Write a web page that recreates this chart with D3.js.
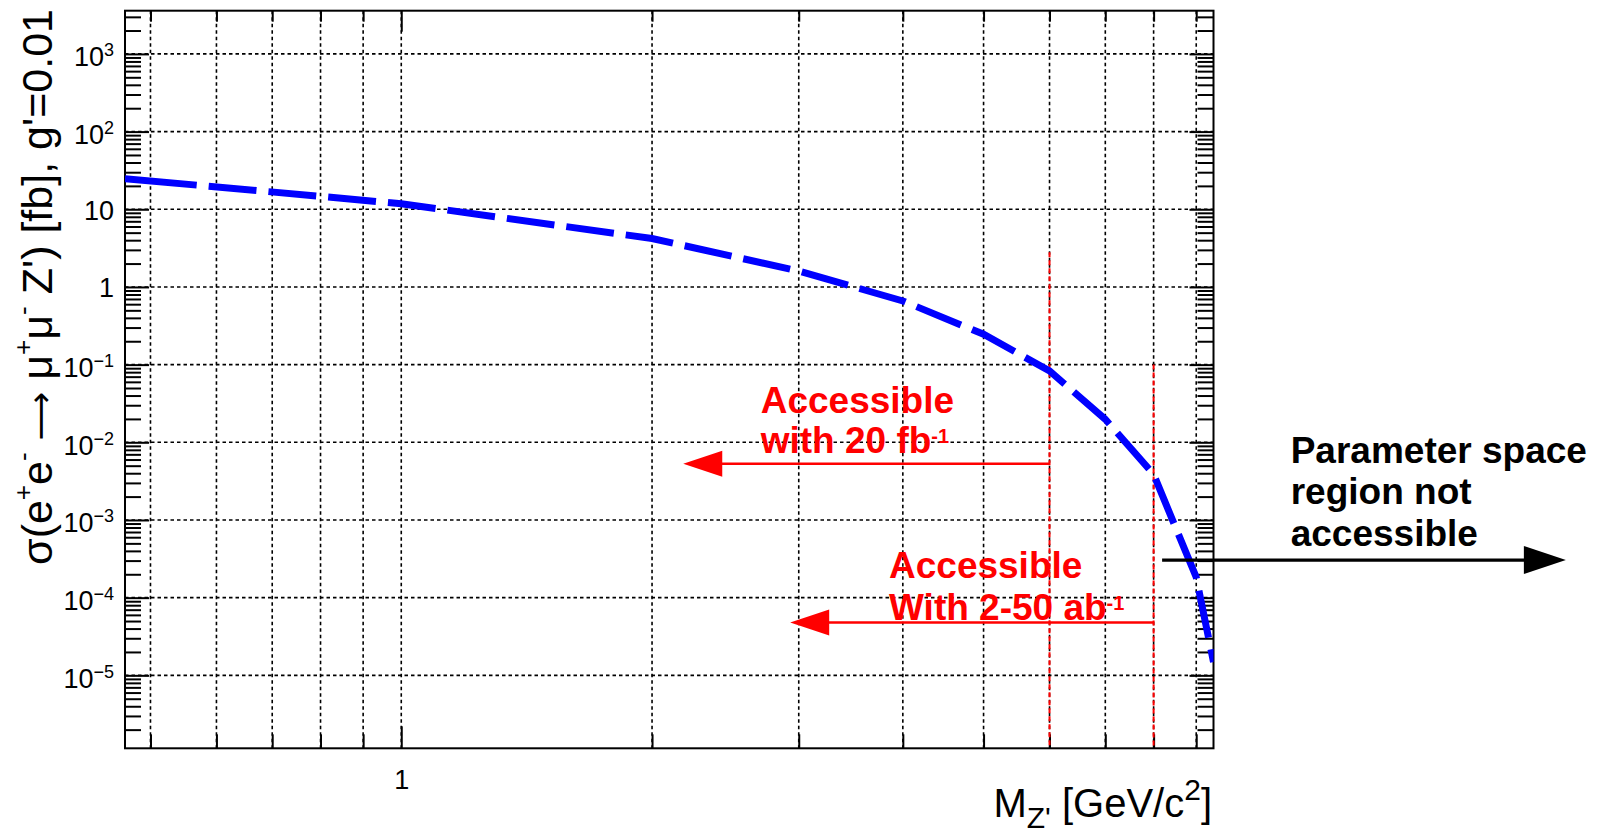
<!DOCTYPE html>
<html>
<head>
<meta charset="utf-8">
<script src="https://cdn.jsdelivr.net/npm/d3@7"></script>
<style>
body{margin:0;background:#fff;}
text{font-family:"Liberation Sans",Arial,sans-serif;}
</style>
</head>
<body>
<script>
// cross section vs Z' mass
var massPoints = [0.466, 1, 2, 3, 4, 5, 6, 7, 8, 9, 9.44];
var xsecValues = [24.8, 11.8, 4.2, 1.6, 0.66, 0.246, 0.083, 0.0198, 0.00387, 1.83e-4, 1.48e-5];

var xGridValues = [0.5, 0.6, 0.7, 0.8, 0.9, 1, 2, 3, 4, 5, 6, 7, 8, 9];
var xTickValues = [1];
var xTickLabels = ["1"];
var yTickValues = [1e3, 1e2, 10, 1, 1e-1, 1e-2, 1e-3, 1e-4, 1e-5];
var yTickBase = ["10", "10", "10", "1", "10", "10", "10", "10", "10"];
var yTickExp = ["3", "2", "", "", "\u22121", "\u22122", "\u22123", "\u22124", "\u22125"];

// red reach lines (20 fb-1 and 2-50 ab-1)
var reachMass = [6, 8];
var reachTop = [2.8, 0.1];
var reachArrowY = [5.3e-3, 4.8e-5];
var reachArrowTip = [2.18, 2.93];
var reachLine1 = ["Accessible", "Accessible"];
var reachLine2 = ["with 20 fb", "With 2-50 ab"];

// black arrow, region not accessible
var notAccX = [8.19, 25.0];
var notAccY = 3.05e-4;
var notAccText = ["Parameter space", "region not", "accessible"];

var W = 1608, H = 834;
var L = 125, R = 1213.5, T = 10.7, B = 748.3;

var x = d3.scaleLog().domain([0.466, 9.44]).range([L, R]);
var y = d3.scaleLog().domain([1.15e-6, 3.6e3]).range([B, T]);

var svg = d3.select("body").append("svg").attr("width", W).attr("height", H);

svg.append("defs").append("clipPath").attr("id", "plotclip")
  .append("rect").attr("x", L).attr("y", T).attr("width", R - L).attr("height", B - T);

// grid
var grid = svg.append("g").attr("stroke", "#000").attr("stroke-width", 1.6).attr("stroke-dasharray", "3.5,3");
grid.selectAll("line.gx").data(xGridValues).enter().append("line").attr("class", "gx")
  .attr("x1", function (d) { return x(d); }).attr("x2", function (d) { return x(d); })
  .attr("y1", T).attr("y2", B);
grid.selectAll("line.gy").data(yTickValues).enter().append("line").attr("class", "gy")
  .attr("x1", L).attr("x2", R)
  .attr("y1", function (d) { return y(d); }).attr("y2", function (d) { return y(d); });

// minor ticks
var yMinor = [];
for (var e = -6; e <= 3; e++) {
  for (var m = 2; m <= 9; m++) {
    var v = m * Math.pow(10, e);
    if (v >= y.domain()[0] && v <= y.domain()[1]) yMinor.push(v);
  }
}
var xMinor = xGridValues.filter(function (d) { return d != 1; });

function styleAxis(g) {
  g.select(".domain").remove();
  g.selectAll(".tick line").attr("stroke", "#000").attr("stroke-width", 2);
}

svg.append("g").attr("transform", "translate(" + L + ",0)")
  .call(d3.axisLeft(y).tickValues(yMinor).tickSize(-16).tickFormat("")).call(styleAxis);
svg.append("g").attr("transform", "translate(" + R + ",0)")
  .call(d3.axisRight(y).tickValues(yMinor).tickSize(-16).tickFormat("")).call(styleAxis);
svg.append("g").attr("transform", "translate(" + R + ",0)")
  .call(d3.axisRight(y).tickValues(yTickValues).tickSize(-24).tickFormat("")).call(styleAxis);
svg.append("g").attr("transform", "translate(0," + B + ")")
  .call(d3.axisBottom(x).tickValues(xMinor).tickSize(-14).tickFormat("")).call(styleAxis);
svg.append("g").attr("transform", "translate(0," + T + ")")
  .call(d3.axisTop(x).tickValues(xMinor).tickSize(-11).tickFormat("")).call(styleAxis);
svg.append("g").attr("transform", "translate(0," + T + ")")
  .call(d3.axisTop(x).tickValues(xTickValues).tickSize(-21).tickFormat("")).call(styleAxis);

// major y axis with labels
var yAx = svg.append("g").attr("transform", "translate(" + L + ",0)")
  .call(d3.axisLeft(y).tickValues(yTickValues).tickSize(-24).tickPadding(11).tickFormat(""))
  .call(styleAxis);
yAx.selectAll(".tick text").each(function (d, i) {
  var t = d3.select(this).attr("fill", "#000").attr("font-size", 27)
    .attr("font-family", "Liberation Sans, Arial, sans-serif")
    .attr("dy", yTickExp[i] ? 12 : 10);
  t.append("tspan").text(yTickBase[i]);
  if (yTickExp[i]) t.append("tspan").attr("dy", -10).attr("font-size", 18).text(yTickExp[i]);
});

// major x axis with labels
var xAx = svg.append("g").attr("transform", "translate(0," + B + ")")
  .call(d3.axisBottom(x).tickValues(xTickValues).tickSize(-22).tickFormat(function (d, i) { return xTickLabels[i]; }))
  .call(styleAxis);
xAx.selectAll(".tick text").attr("fill", "#000").attr("font-size", 27)
  .attr("font-family", "Liberation Sans, Arial, sans-serif").attr("y", 41).attr("dy", 0);

// frame
svg.append("rect").attr("x", L).attr("y", T).attr("width", R - L).attr("height", B - T)
  .attr("fill", "none").attr("stroke", "#000").attr("stroke-width", 2);

// red reach markers
var red = "#ff0000";
reachMass.forEach(function (mv, i) {
  svg.append("line").attr("x1", x(mv)).attr("x2", x(mv)).attr("y1", y(reachTop[i])).attr("y2", B)
    .attr("stroke", red).attr("stroke-width", 2).attr("stroke-dasharray", "5,3");
  var ay = y(reachArrowY[i]), tip = x(reachArrowTip[i]);
  svg.append("line").attr("x1", x(mv)).attr("x2", tip + 36).attr("y1", ay).attr("y2", ay)
    .attr("stroke", red).attr("stroke-width", 2.5);
  svg.append("path").attr("d", "M" + tip + "," + ay + "L" + (tip + 39) + "," + (ay - 13) + "L" + (tip + 39) + "," + (ay + 13) + "Z")
    .attr("fill", red);
});

// curve
var pts = massPoints.map(function (d, i) { return [d, xsecValues[i]]; });
var line = d3.line().x(function (d) { return x(d[0]); }).y(function (d) { return y(d[1]); });
var curve = svg.append("path").datum(pts).attr("d", line).attr("clip-path", "url(#plotclip)")
  .attr("fill", "none").attr("stroke", "#0000ff").attr("stroke-width", 7);
var len = curve.node().getTotalLength();
var dashes = [72, 12], tot = 84;
while (tot < len + 60) { dashes.push(48, 12); tot += 60; }
curve.attr("stroke-dasharray", dashes.join(","));

// red labels
var reachPos = [[760.7, 413, 453.3], [889, 578.3, 620]];
reachLine1.forEach(function (s, i) {
  var p = reachPos[i];
  svg.append("text").attr("x", p[0]).attr("y", p[1]).attr("fill", red).attr("font-size", 37)
    .attr("font-weight", "bold").text(s);
  var t2 = svg.append("text").attr("x", p[0]).attr("y", p[2]).attr("fill", red).attr("font-size", 37)
    .attr("font-weight", "bold");
  t2.append("tspan").text(reachLine2[i]);
  t2.append("tspan").attr("dy", -10).attr("font-size", 20).text("-1");
});

// black arrow and label
var by = y(notAccY), bx0 = x(notAccX[0]), bx1 = x(notAccX[1]);
svg.append("line").attr("x1", bx0).attr("x2", bx1 - 40).attr("y1", by).attr("y2", by)
  .attr("stroke", "#000").attr("stroke-width", 3.3);
svg.append("path").attr("d", "M" + bx1 + "," + by + "L" + (bx1 - 42) + "," + (by - 14) + "L" + (bx1 - 42) + "," + (by + 14) + "Z")
  .attr("fill", "#000");
notAccText.forEach(function (s, i) {
  svg.append("text").attr("x", 1290.7).attr("y", 462.7 + i * 41.5).attr("fill", "#000")
    .attr("font-size", 37).attr("font-weight", "bold").text(s);
});

// axis titles
var yt = svg.append("text").attr("transform", "translate(52,9) rotate(-90)")
  .attr("text-anchor", "end").attr("font-size", 43).attr("fill", "#000");
yt.append("tspan").text("\u03c3(e");
yt.append("tspan").attr("dy", -20).attr("font-size", 26).text("+");
yt.append("tspan").attr("dy", 20).text("e");
yt.append("tspan").attr("dy", -20).attr("font-size", 26).text("-");
yt.append("tspan").attr("dy", 20).text(" ");
yt.append("tspan").attr("font-family", "DejaVu Sans").attr("font-size", 34).text("\u27f6");
yt.append("tspan").text(" \u03bc");
yt.append("tspan").attr("dy", -20).attr("font-size", 26).text("+");
yt.append("tspan").attr("dy", 20).text("\u03bc");
yt.append("tspan").attr("dy", -20).attr("font-size", 26).text("-");
yt.append("tspan").attr("dy", 20).text(" Z') [fb], g'=0.01");

var xt = svg.append("text").attr("x", 1212).attr("y", 817).attr("text-anchor", "end")
  .attr("font-size", 40).attr("fill", "#000");
xt.append("tspan").text("M");
xt.append("tspan").attr("dy", 11).attr("font-size", 30).text("Z'");
xt.append("tspan").attr("dy", -11).text(" [GeV/c");
xt.append("tspan").attr("dy", -17).attr("font-size", 30).text("2");
xt.append("tspan").attr("dy", 17).text("]");
</script>
</body>
</html>
